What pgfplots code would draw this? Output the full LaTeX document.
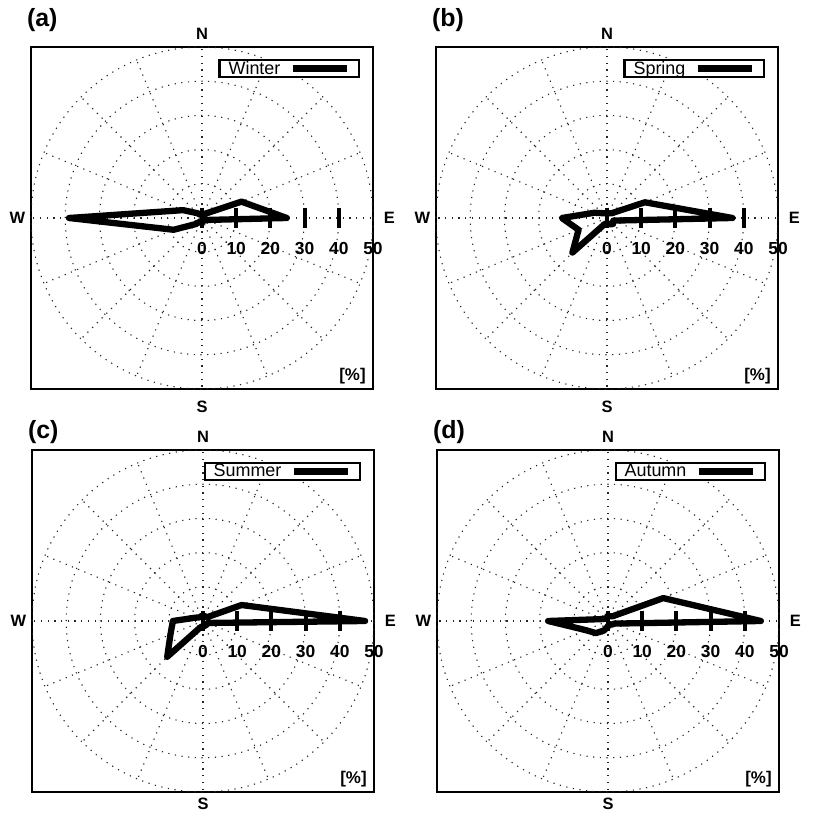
\documentclass[border=0pt]{standalone}
\usepackage{fontspec}
\setmainfont{Liberation Sans}
\usepackage{pgfplots}
\usepackage{pgfplotstable}
\pgfplotsset{compat=1.18}

% direction (math angle, deg) and frequency (%)
\pgfplotstableread{
ang r
0 24.8
22.5 12.5
45 2
67.5 1
90 1
112.5 1
135 2
157.5 6
180 38.9
202.5 9
225 2.5
247.5 1
270 1
292.5 1
315 1
337.5 1.5
}\winter
\pgfplotstableread{
ang r
0 36.7
22.5 12
45 2
67.5 1.5
90 1.5
112.5 1.5
135 2
157.5 4
180 13.2
202.5 9
225 14.3
247.5 2
270 1.5
292.5 2
315 2.5
337.5 2
}\spring
\pgfplotstableread{
ang r
0 47.4
22.5 12.2
45 1.5
67.5 1.5
90 1.5
112.5 1.5
135 1.5
157.5 2.5
180 8.8
202.5 10.3
225 14.8
247.5 2
270 1.5
292.5 1.5
315 1.5
337.5 1.5
}\summer
\pgfplotstableread{
ang r
0 44.7
22.5 17.5
45 2
67.5 1.5
90 1.5
112.5 1
135 1
157.5 1.5
180 17.5
202.5 7
225 5
247.5 3
270 1.5
292.5 1
315 1.5
337.5 2
}\autumn

\tikzset{gridline/.style={black!85, line width=1.1bp, dash pattern=on 1.2bp off 5.5bp}}
\newcommand{\labfont}{\fontsize{16.5}{16.5}\selectfont\bfseries}
\newcommand{\tickfont}{\fontsize{17.5}{17.5}\selectfont\bfseries}
\newcommand{\legfont}{\fontsize{18}{18}\selectfont}
\pgfplotsset{
  rose/.style={
    anchor=south west, width=342bp, height=342bp, scale only axis,
    xmin=-50, xmax=50, ymin=-50, ymax=50,
    xtick=\empty, ytick=\empty, clip=false,
    axis line style={line width=2.8bp},
    legend plot pos=right,
    legend style={at={(0.962,0.965)}, anchor=north east, draw=black,
      line width=2.2bp, inner xsep=9bp, inner ysep=0.8bp,
      font=\legfont, nodes={inner xsep=0bp, inner ysep=0.6bp},
      /tikz/every odd column/.append style={column sep=9bp}},
    legend image code/.code={\draw[line width=6.5bp, black] (0bp,0bp) -- (54bp,0bp);},
  },
  rosedata/.style={black, line width=6.3bp, line join=round, data cs=polar},
}
\newcommand{\rosecommon}[3]{%
  \pgfplotsinvokeforeach{10,20,30,40,50}{\draw[gridline] (axis cs:0,0) circle[radius=##1];}%
  \pgfplotsinvokeforeach{0,22.5,...,337.5}{\draw[gridline] (axis cs:0,0) -- (axis cs:{50*cos(##1)},{50*sin(##1)});}%
  \node[font=\labfont] at (axis cs:0,53.8) {N};
  \node[font=\labfont] at (axis cs:0,-#3) {S};
  \node[font=\labfont] at (axis cs:54.8,0) {E};
  \node[font=\labfont] at (axis cs:-54,0) {W};
  \node[font=\fontsize{17}{17}\selectfont\bfseries] at (axis cs:44,-46.3) {[\%]};
  \node[anchor=west, inner sep=0pt, font=\fontsize{25}{25}\selectfont\bfseries] at (axis cs:-51.2,#2) {(#1)};
}
\newcommand{\rosefront}{%
  \addplot[only marks, mark=|, mark size=10.3bp, mark options={line width=4bp, black}, forget plot]
    coordinates {(0,0) (10,0) (20,0) (30,0) (40,0)};
  \pgfplotsinvokeforeach{0,10,20,30,40,50}{\node[font=\tickfont] at (axis cs:##1,-9) {##1};}%
}

\begin{document}
\begin{tikzpicture}
\useasboundingbox (0bp,0bp) rectangle (813bp,817bp);
\begin{axis}[rose, at={(31bp,428bp)}]
  \rosecommon{a}{58}{55.3}
  \addplot[rosedata] table[x=ang,y=r] {\winter} -- cycle;
  \addlegendentry{Winter}
  \rosefront
\end{axis}
\begin{axis}[rose, at={(436bp,428bp)}]
  \rosecommon{b}{58}{55.3}
  \addplot[rosedata] table[x=ang,y=r] {\spring} -- cycle;
  \addlegendentry{Spring}
  \rosefront
\end{axis}
\begin{axis}[rose, at={(32bp,25bp)}]
  \rosecommon{c}{55.2}{53.6}
  \addplot[rosedata] table[x=ang,y=r] {\summer} -- cycle;
  \addlegendentry{Summer}
  \rosefront
\end{axis}
\begin{axis}[rose, at={(437bp,25bp)}]
  \rosecommon{d}{55.2}{53.6}
  \addplot[rosedata] table[x=ang,y=r] {\autumn} -- cycle;
  \addlegendentry{Autumn}
  \rosefront
\end{axis}
\end{tikzpicture}
\end{document}
